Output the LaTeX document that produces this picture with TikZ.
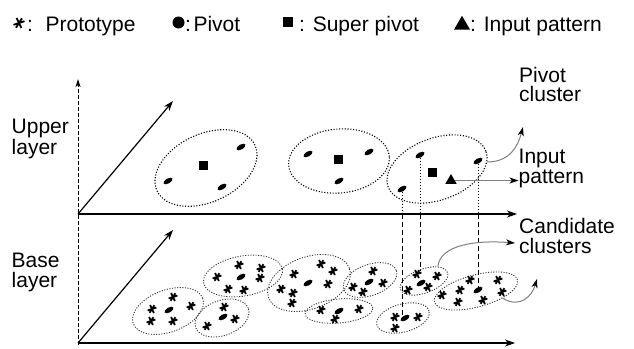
\documentclass[tikz,border=0pt]{standalone}
\usepackage{fontspec}
\setmainfont{Liberation Sans}
\usetikzlibrary{shapes.geometric,arrows.meta}
\begin{document}
\begin{tikzpicture}[x=1pt,y=-1pt,
  side/.style={font=\fontsize{21}{19.5}\selectfont, inner sep=0pt, align=left, anchor=base west},
  axis/.style={line width=1.4pt, -{Stealth[length=10pt,width=7pt,inset=3pt]}},
  vaxis/.style={line width=0.9pt, dash pattern=on 4pt off 2pt, -{Stealth[length=8pt,width=5pt,inset=2pt]}},
  upclus/.style={ellipse, draw, line width=1.1pt, dash pattern=on 1.1pt off 1.7pt, inner sep=0pt},
  baseclus/.style={ellipse, draw=black!80, line width=0.9pt, dash pattern=on 1.1pt off 1.5pt, inner sep=0pt},
  pivot/.style={ellipse, fill, inner sep=0pt, minimum width=10pt, minimum height=5pt, rotate=30},
  spivot/.style={rectangle, fill, inner sep=0pt, minimum size=9pt},
  inpat/.style={regular polygon, regular polygon sides=3, fill, inner sep=0pt, minimum size=13pt},
  callout/.style={draw=black!50, line width=1pt, -{Stealth[black, length=9pt, width=6pt, inset=2.5pt]}},
  dropline/.style={line width=0.9pt, dash pattern=on 1pt off 2pt},
  droplong/.style={line width=0.9pt, dash pattern=on 5pt off 3pt},
  proto/.pic={\draw[line width=1.8pt] (-4.4,1.5) -- (4.4,-1.5) (-1.9,-4) -- (1.9,4) (2.4,-3.8) -- (-2.4,3.8);},
]
\useasboundingbox (0,0) rectangle (634,348);

% ---- legend ----
\pic[scale=1.25] at (19,23) {proto};
\node[side] (lgproto) at (27,31.5) {:\hspace{12.6pt}Prototype};
\node[circle, fill, inner sep=0pt, minimum size=12pt] (lgpiv) at (178.5,22.5) {};
\node[side] (lgpivt) at (185,31.5) {:\hspace{2.5pt}Pivot};
\node[spivot, minimum size=10.5pt] (lgsq) at (288,21.8) {};
\node[side] (lgsqt) at (299,31.5) {: Super pivot};
\node[inpat, minimum size=18.5pt] (lgtri) at (462,25) {};
\node[side] (lgtrit) at (470,31.5) {: Input pattern};

% ---- axes ----
\coordinate (o1) at (78,214);
\coordinate (o2) at (78,343);
\coordinate (vtop) at (78,79);
\coordinate (vbot) at (78,345);
\coordinate (x1) at (517,214);
\coordinate (x2) at (515,343);
\coordinate (d1) at (173,101);
\coordinate (d2) at (173,230);
\draw[vaxis] (vbot) -- (vtop);
\draw[axis] (o1) -- (x1);
\draw[axis] (o2) -- (x2);
\draw[axis, line width=1.2pt] (o1) -- (d1);
\draw[axis, line width=1.2pt] (o2) -- (d2);

% ---- layer labels ----
\node[side] (upl) at (11.5,154) {Upper\\layer};
\node[side] (basl) at (11.5,287) {Base\\layer};

% ---- upper layer: pivot clusters ----
\node[upclus, minimum width=108pt, minimum height=68pt, rotate=25] (u1) at (206,168) {};
\node[pivot] (p11) at (241,147) {};
\node[pivot] (p12) at (168,181) {};
\node[pivot] (p13) at (222,187) {};
\node[spivot] (s1) at (203,165) {};

\node[upclus, minimum width=101pt, minimum height=64pt, rotate=5] (u2) at (339,161) {};
\node[pivot] (p21) at (308,154) {};
\node[pivot] (p22) at (369,152) {};
\node[pivot] (p23) at (339,181) {};
\node[spivot] (s2) at (338,159) {};

\node[upclus, minimum width=104pt, minimum height=62pt, rotate=20] (u3) at (437,169) {};
\node[pivot] (p31) at (420,155) {};
\node[pivot] (p32) at (478,161) {};
\node[pivot] (p33) at (402,189) {};
\node[spivot] (s3) at (432,172) {};
\node[inpat] (tri) at (451,180.5) {};

% ---- base layer: prototype clusters ----
\node[baseclus, minimum width=74pt, minimum height=42pt, rotate=20] (eA) at (168,311) {};
\node[pivot] (pA) at (169,310) {};
\foreach \p in {(173,297),(152,309),(191,306),(151,321),(173,321)} \pic at \p {proto};

\node[baseclus, minimum width=80pt, minimum height=40pt, rotate=10] (eB) at (243,276) {};
\node[pivot] (pB) at (241,277) {};
\foreach \p in {(239,265),(261,268),(217,277),(260,278),(228,289),(244,290)} \pic at \p {proto};

\node[baseclus, minimum width=56pt, minimum height=35pt, rotate=20] (eC) at (222,318) {};
\node[pivot] (pC) at (223,317) {};
\foreach \p in {(224,307),(235,319),(207,326)} \pic at \p {proto};

\node[baseclus, minimum width=86pt, minimum height=52pt, rotate=20] (eD) at (309,283) {};
\node[pivot] (pD) at (308,283) {};
\foreach \p in {(321,264),(333,271),(294,274),(328,284),(281,289),(293,293),(292,303)} \pic at \p {proto};

\node[baseclus, minimum width=56pt, minimum height=31pt, rotate=20] (eF) at (370,280) {};
\node[pivot] (pF) at (369,282) {};
\foreach \p in {(373,271),(383,283),(353,287),(363,292)} \pic at \p {proto};

\node[baseclus, minimum width=68pt, minimum height=24pt, rotate=5] (eG) at (339,311) {};
\node[pivot] (pG) at (339,311) {};
\foreach \p in {(321,310),(359,309),(335,319)} \pic at \p {proto};

\node[baseclus, minimum width=50pt, minimum height=24pt, rotate=20] (eH) at (424,281) {};
\node[pivot] (pH) at (421,283) {};
\foreach \p in {(417,274),(437,276),(428,287),(408,290)} \pic at \p {proto};

\node[baseclus, minimum width=86pt, minimum height=32pt, rotate=15] (eI) at (476,291) {};
\node[pivot] (pI) at (478,290) {};
\foreach \p in {(470,280),(498,280),(460,290),(502,292),(442,295),(483,300),(458,302)} \pic at \p {proto};

\node[baseclus, minimum width=54pt, minimum height=28pt, rotate=15] (eJ) at (403,318) {};
\node[pivot] (pJ) at (405,318) {};
\foreach \p in {(395,317),(418,317),(395,328)} \pic at \p {proto};

% ---- projections from pivots down to the base layer ----
\draw[dropline] (p33) -- (p33 |- o1);
\draw[dropline] (p31) -- (p31 |- o1);
\draw[dropline] (p32) -- (p32 |- o1);
\draw[droplong] (p33 |- o1) -- (p33 |- pJ.north);
\draw[droplong] (p31 |- o1) -- ([yshift=12pt]p31 |- pH);
\draw[droplong] (p32 |- o1) -- (p32 |- pI.north);

% ---- side labels and callouts ----
\node[side] (pcl) at (519,101.5) {Pivot\\cluster};
\node[side] (inp) at (518.5,183) {Input\\pattern};
\node[side] (cand) at (519,253) {Candidate\\clusters};
\coordinate (pcTip) at (523,127);
\coordinate (ccTip) at (515,243);
\coordinate (cc2Tip) at (537,279);
\draw[callout] (u3.-12) .. controls (510,162) and (518,146) .. (pcTip);
\draw[callout] (tri.east) -- (tri.east -| inp.west);
\draw[callout] (eH.north east) .. controls (440,245) and (475,240) .. (ccTip);
\draw[callout] (eI.-30) .. controls (520,309) and (532,296) .. (cc2Tip);
\end{tikzpicture}
\end{document}
